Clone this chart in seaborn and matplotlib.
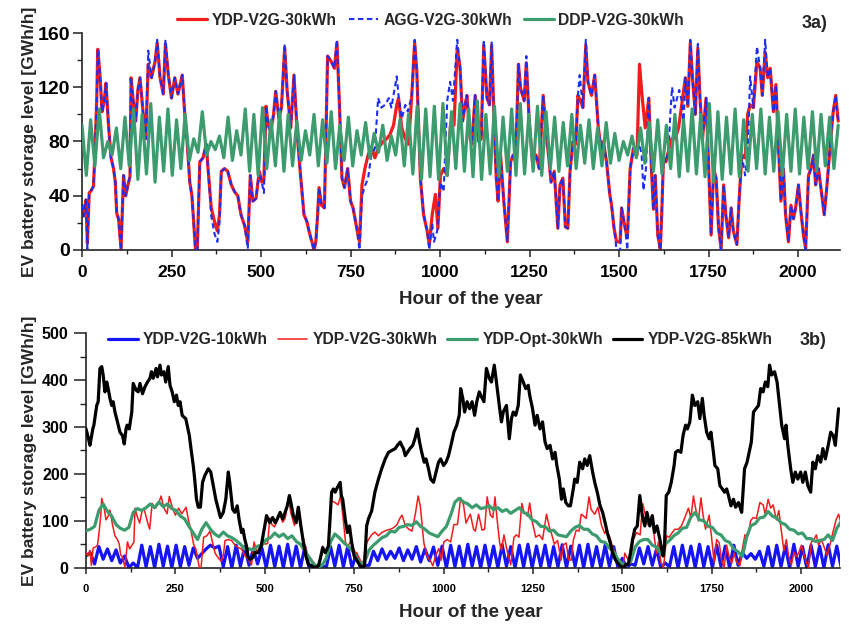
import numpy as np
import pandas as pd
import matplotlib
matplotlib.use("Agg")
import matplotlib.pyplot as plt
import seaborn as sns
from matplotlib.ticker import MultipleLocator

# ---------------------------------------------------------------- data
# YDP-V2G-30kWh storage level, hour / GWh/h
ydp30_hours = [0, 5, 11, 15, 20, 26, 32, 36, 41, 44, 50, 56, 62, 67, 74, 81, 88, 93, 97, 102, 109, 116, 122, 130, 134,
               137, 143, 150, 156, 162, 171, 178, 185, 194, 204, 210, 218, 227, 233, 241, 250, 259, 268, 280, 287, 294,
               301, 307, 317, 322, 329, 338, 347, 352, 361, 370, 378, 384, 389, 398, 407, 417, 426, 435, 444, 454, 463,
               470, 477, 486, 495, 502, 508, 514, 520, 527, 535, 541, 550, 557, 566, 573, 583, 592, 602, 611, 620, 628,
               634, 644, 648, 653, 658, 662, 669, 677, 686, 696, 705, 712, 719, 726, 733, 742, 750, 757, 766, 775, 782,
               790, 799, 808, 818, 827, 841, 851, 860, 870, 879, 884, 893, 903, 912, 921, 929, 935, 945, 954, 964, 970,
               978, 987, 994, 1001, 1010, 1020, 1029, 1039, 1048, 1056, 1063, 1070, 1075, 1084, 1089, 1098, 1108, 1115,
               1122, 1131, 1138, 1144, 1150, 1157, 1162, 1169, 1178, 1188, 1197, 1204, 1211, 1219, 1225, 1235, 1241,
               1249, 1258, 1268, 1277, 1288, 1296, 1303, 1310, 1319, 1329, 1335, 1343, 1350, 1357, 1363, 1371, 1379,
               1385, 1392, 1399, 1407, 1413, 1423, 1432, 1442, 1451, 1456, 1465, 1474, 1479, 1486, 1493, 1503, 1507,
               1517, 1523, 1531, 1540, 1550, 1557, 1564, 1573, 1583, 1590, 1596, 1601, 1608, 1615, 1619, 1624, 1631,
               1638, 1647, 1657, 1666, 1675, 1685, 1692, 1699, 1705, 1713, 1720, 1726, 1733, 1743, 1750, 1757, 1764,
               1771, 1778, 1785, 1792, 1798, 1806, 1813, 1819, 1829, 1835, 1843, 1852, 1859, 1866, 1875, 1885, 1894,
               1900, 1908, 1915, 1922, 1931, 1938, 1945, 1952, 1959, 1965, 1973, 1980, 1987, 1993, 2001, 2008, 2015,
               2021, 2029, 2036, 2043, 2049, 2057, 2066, 2073, 2080, 2089, 2098, 2105, 2112]
ydp30_values = [33, 25, 37, 5, 42, 44, 47, 71, 110, 148, 130, 102, 110, 123, 92, 68, 60, 50, 27, 23, 1, 55, 40, 50, 54,
                127, 110, 95, 118, 127, 100, 82, 137, 127, 139, 153, 127, 115, 152, 129, 112, 127, 115, 129, 100, 78,
                50, 40, 0, 1, 65, 68, 78, 60, 31, 21, 14, 26, 58, 60, 58, 48, 43, 40, 26, 18, 6,
                55, 36, 38, 58, 50, 52, 106, 92, 87, 100, 117, 97, 105, 149, 117, 90, 129, 82, 53, 26, 21,
                14, 4, 0, 6, 26, 46, 33, 31, 143, 139, 134, 153, 107, 53, 46, 60, 36, 31, 18, 6, 48,
                60, 70, 76, 68, 75, 80, 82, 85, 92, 107, 112, 90, 82, 78, 114, 153, 132, 53, 26, 14, 4,
                26, 41, 16, 55, 60, 55, 92, 92, 149, 134, 95, 107, 114, 82, 78, 114, 80, 82,
                151, 112, 107, 151, 102, 53, 36, 70, 36, 6, 65, 70, 65, 137, 119, 110, 138,
                95, 65, 70, 60, 114, 87, 70, 50, 58, 16, 48, 53, 17, 16, 58, 80, 78,
                114, 110, 105, 151, 124, 114, 129, 90, 73, 80, 65, 41, 33, 16, 6, 6, 31,
                16, 9, 60, 75, 70, 137, 114, 90, 112, 62, 30, 55, 11, 1, 26, 68, 65,
                73, 82, 82, 90, 107, 127, 106, 153, 127, 100, 149, 112, 82, 112, 63, 11, 60,
                53, 16, 1, 48, 26, 9, 31, 14, 4, 36, 70, 68, 100, 107, 105, 139, 134,
                114, 146, 127, 134, 102, 122, 78, 36, 60, 26, 6, 33, 23, 31, 48, 28, 11,
                1, 55, 60, 70, 48, 60, 41, 26, 46, 75, 102, 114, 95]

# AGG-V2G-30kWh storage level
agg30_hours = [0, 5, 11, 15, 20, 26, 32, 36, 41, 44, 50, 56, 62, 67, 74, 81, 88, 93, 97, 102, 109, 116, 122, 130, 134,
               137, 143, 150, 156, 162, 171, 178, 185, 194, 204, 210, 218, 227, 233, 241, 250, 259, 268, 280, 287, 294,
               301, 307, 317, 322, 329, 338, 347, 352, 361, 370, 378, 384, 389, 398, 407, 417, 426, 435, 444, 454, 463,
               470, 477, 486, 495, 502, 508, 514, 520, 527, 535, 541, 550, 557, 566, 573, 583, 592, 602, 611, 620, 628,
               634, 644, 648, 653, 658, 662, 669, 677, 686, 696, 705, 712, 719, 726, 733, 742, 750, 757, 766, 775, 782,
               790, 799, 808, 818, 827, 836, 846, 857, 864, 879, 884, 893, 903, 910, 921, 929, 935, 945, 954, 964, 970,
               978, 983, 992, 1001, 1010, 1020, 1028, 1036, 1048, 1056, 1063, 1070, 1075, 1084, 1089, 1098, 1108, 1115,
               1122, 1131, 1138, 1144, 1150, 1157, 1162, 1169, 1178, 1188, 1197, 1204, 1211, 1219, 1225, 1235, 1241,
               1249, 1258, 1268, 1277, 1288, 1296, 1303, 1310, 1319, 1329, 1335, 1343, 1350, 1357, 1363, 1371, 1379,
               1385, 1390, 1399, 1407, 1413, 1423, 1432, 1442, 1451, 1456, 1465, 1474, 1479, 1486, 1493, 1503, 1507,
               1517, 1523, 1531, 1540, 1550, 1557, 1563, 1568, 1575, 1583, 1590, 1596, 1601, 1608, 1615, 1619, 1624,
               1631, 1638, 1643, 1648, 1655, 1662, 1668, 1675, 1680, 1685, 1692, 1699, 1705, 1713, 1720, 1726, 1733,
               1743, 1750, 1757, 1764, 1771, 1778, 1785, 1792, 1798, 1806, 1813, 1819, 1829, 1835, 1843, 1852, 1859,
               1866, 1875, 1885, 1894, 1900, 1908, 1915, 1922, 1931, 1938, 1945, 1952, 1959, 1965, 1973, 1980, 1987,
               1993, 2001, 2008, 2015, 2021, 2029, 2036, 2043, 2049, 2057, 2066, 2073, 2080, 2089, 2098, 2105, 2112]
agg30_values = [33, 25, 37, 1, 42, 44, 47, 71, 110, 148, 130, 102, 110, 123, 92, 68, 60, 50, 27, 23, 0, 55, 40, 50, 54,
                127, 110, 95, 118, 127, 100, 82, 147, 127, 139, 155, 127, 115, 155, 129, 112, 127, 115, 129, 100, 78,
                50, 40, 0, 1, 65, 68, 78, 60, 25, 12, 6, 20, 58, 60, 58, 48, 43, 40, 26, 18, 1,
                55, 36, 38, 58, 50, 42, 106, 92, 87, 100, 117, 97, 105, 152, 117, 90, 129, 82, 53, 26, 21,
                14, 4, 0, 6, 26, 46, 33, 31, 143, 139, 134, 155, 107, 53, 46, 60, 36, 31, 18, 0, 40,
                47, 53, 70, 75, 112, 105, 107, 112, 105, 128, 114, 97, 107, 102, 114, 155, 132, 53, 26, 14, 0,
                20, 6, 14, 50, 43, 110, 124, 110, 155, 134, 95, 107, 114, 82, 78, 114, 80, 82,
                155, 112, 107, 153, 102, 53, 36, 70, 36, 6, 65, 70, 65, 137, 119, 110, 143,
                95, 65, 70, 60, 114, 87, 70, 50, 58, 16, 48, 53, 17, 16, 58, 80, 78,
                114, 129, 105, 155, 124, 114, 129, 90, 73, 80, 65, 41, 33, 16, 0, 0, 31,
                16, 0, 60, 75, 72, 78, 70, 44, 60, 112, 62, 30, 55, 11, 0, 26, 68,
                65, 73, 100, 120, 105, 112, 118, 110, 92, 127, 106, 155, 127, 100, 152, 112, 82,
                112, 63, 11, 60, 53, 16, 0, 48, 26, 9, 31, 14, 4, 36, 70, 55, 70,
                128, 105, 150, 134, 114, 155, 127, 134, 102, 122, 78, 36, 60, 26, 6, 33, 23,
                31, 48, 28, 11, 0, 55, 60, 70, 48, 60, 41, 26, 46, 75, 102, 114, 95]

# DDP-V2G-30kWh storage level, one value every 12 h (daily high / low)
ddp30_step = 12
ddp30_values = [92, 55, 96, 62, 104, 68, 80, 70, 90, 60, 98, 62, 104, 52, 100, 56, 108, 50, 98, 58,
                104, 55, 96, 60, 100, 66, 82, 72, 102, 70, 80, 74, 84, 68, 98, 66, 88, 70, 104, 58,
                100, 55, 105, 60, 96, 62, 102, 58, 100, 62, 95, 66, 88, 70, 100, 62, 96, 64, 102, 60,
                92, 66, 98, 62, 88, 70, 94, 68, 86, 72, 92, 66, 84, 70, 96, 62, 100, 56, 106, 52,
                104, 54, 106, 52, 108, 55, 102, 60, 108, 58, 104, 54, 110, 52, 100, 56, 106, 54, 98, 58,
                104, 55, 108, 56, 100, 58, 106, 55, 102, 60, 98, 58, 94, 62, 100, 60, 92, 64, 96, 60,
                90, 62, 94, 64, 86, 66, 80, 70, 84, 68, 90, 64, 94, 58, 96, 56, 92, 60, 100, 54,
                96, 58, 104, 56, 100, 54, 108, 50, 102, 52, 98, 56, 104, 54, 96, 58, 100, 60, 104, 56,
                98, 58, 102, 55, 100, 58, 104, 56, 98, 60, 102, 58, 100, 62, 98, 60, 92]

# YDP-V2G-10kWh storage level, one value every 12 h
ydp10_step = 12
ydp10_values = [25, 32, 8, 45, 18, 40, 15, 38, 10, 25, 0, 10, 0, 48, 2, 45, 0, 50, 3, 46,
                0, 48, 2, 45, 5, 42, 20, 30, 40, 48, 42, 46, 2, 45, 0, 48, 3, 45, 5, 40,
                8, 42, 0, 48, 2, 46, 0, 50, 3, 46, 0, 45, 0, 8, 0, 5, 0, 45, 3, 48,
                2, 45, 0, 30, 0, 5, 5, 35, 15, 40, 18, 35, 20, 42, 15, 38, 18, 45, 12, 40,
                15, 44, 5, 46, 0, 48, 2, 46, 0, 50, 3, 45, 0, 48, 2, 46, 0, 49, 3, 45,
                0, 48, 2, 50, 0, 46, 3, 48, 0, 45, 2, 49, 0, 46, 3, 48, 0, 50, 2, 45,
                0, 48, 3, 45, 0, 20, 0, 8, 5, 42, 8, 45, 5, 40, 0, 10, 2, 45, 0, 48,
                3, 46, 0, 50, 2, 45, 0, 48, 3, 46, 0, 48, 5, 32, 20, 30, 18, 35, 3, 45,
                0, 48, 2, 46, 0, 50, 3, 45, 0, 48, 2, 46, 0, 49, 3, 46, 2]

# YDP-Opt-30kWh storage level, one value every 12 h
opt30_step = 12
opt30_values = [79, 82, 88, 122, 136, 120, 110, 92, 84, 80, 86, 118, 126, 122, 128, 136, 128, 140, 130, 136,
                126, 122, 110, 104, 88, 74, 60, 82, 96, 82, 72, 66, 76, 68, 64, 58, 50, 40, 40, 38,
                46, 48, 60, 64, 74, 66, 72, 62, 68, 56, 50, 36, 22, 8, 2, 5, 20, 55, 72, 64,
                54, 46, 38, 22, 8, 14, 38, 48, 56, 64, 68, 78, 76, 86, 88, 92, 90, 98, 88, 82,
                74, 70, 66, 78, 88, 112, 140, 148, 140, 136, 128, 134, 126, 128, 132, 124, 128, 120, 124, 116,
                122, 128, 118, 114, 102, 98, 88, 88, 78, 80, 70, 68, 66, 78, 86, 90, 82, 82, 72, 68,
                56, 54, 42, 34, 18, 8, 6, 14, 44, 56, 60, 60, 48, 44, 30, 50, 58, 68, 74, 84,
                86, 108, 118, 102, 100, 88, 86, 74, 70, 58, 54, 40, 34, 24, 66, 90, 94, 106, 108, 120,
                110, 106, 96, 92, 82, 80, 72, 74, 62, 62, 56, 58, 60, 70, 58, 84, 98]

# YDP-V2G-85kWh storage level
ydp85_hours = [0, 7, 11, 19, 22, 30, 34, 39, 44, 48, 53, 58, 62, 67, 72, 76, 81, 88, 95, 102, 107, 112, 115, 121, 128,
               132, 140, 146, 151, 158, 165, 172, 179, 183, 188, 196, 200, 207, 211, 218, 223, 230, 235, 241, 247, 253,
               258, 263, 269, 274, 279, 283, 289, 295, 300, 304, 309, 314, 320, 326, 332, 342, 349, 356, 363, 370, 376,
               384, 391, 398, 402, 410, 416, 423, 428, 435, 439, 444, 449, 453, 458, 466, 472, 481, 490, 500, 505, 514,
               522, 529, 535, 543, 550, 557, 563, 569, 573, 580, 588, 594, 601, 608, 615, 622, 631, 641, 650, 655, 662,
               669, 678, 687, 692, 697, 701, 706, 711, 714, 718, 725, 731, 737, 743, 750, 759, 767, 774, 779, 785, 790,
               799, 808, 818, 827, 837, 846, 855, 865, 871, 879, 883, 888, 893, 899, 906, 914, 920, 927, 933, 939, 946,
               951, 958, 964, 972, 979, 986, 992, 1000, 1007, 1014, 1023, 1029, 1037, 1044, 1048, 1054, 1059, 1066,
               1073, 1080, 1087, 1093, 1100, 1104, 1113, 1120, 1128, 1134, 1142, 1148, 1156, 1162, 1167, 1176, 1184,
               1190, 1195, 1202, 1209, 1215, 1223, 1230, 1237, 1241, 1249, 1256, 1262, 1270, 1277, 1284, 1290, 1298,
               1305, 1312, 1317, 1324, 1330, 1335, 1342, 1349, 1355, 1363, 1367, 1374, 1381, 1389, 1395, 1402, 1409,
               1417, 1423, 1430, 1438, 1445, 1452, 1458, 1466, 1473, 1480, 1486, 1494, 1503, 1510, 1517, 1523, 1529,
               1535, 1542, 1549, 1556, 1563, 1569, 1577, 1584, 1590, 1597, 1605, 1610, 1614, 1618, 1623, 1630, 1637,
               1645, 1649, 1656, 1664, 1670, 1677, 1682, 1689, 1696, 1703, 1711, 1717, 1724, 1729, 1736, 1743, 1748,
               1755, 1759, 1767, 1773, 1780, 1786, 1792, 1797, 1804, 1811, 1817, 1825, 1834, 1842, 1849, 1853, 1861,
               1867, 1874, 1881, 1887, 1894, 1900, 1907, 1912, 1918, 1926, 1933, 1940, 1946, 1954, 1958, 1963, 1971,
               1977, 1984, 1991, 1999, 2005, 2012, 2019, 2027, 2033, 2040, 2047, 2055, 2061, 2068, 2076, 2083, 2090,
               2096, 2101, 2105]
ydp85_values = [296, 275, 261, 296, 304, 346, 354, 425, 429, 411, 375, 396, 382, 361, 346, 354, 332, 311, 289, 282, 264,
                296, 304, 296, 332,
                393, 379, 375, 393, 371, 386, 396, 404, 418, 404, 425, 407, 432, 411, 418, 396, 429, 389, 375, 354, 368,
                346, 354, 325, 321, 318, 304, 282, 246, 218, 189, 146, 129, 129, 182, 196, 211, 204, 175, 146, 125, 107,
                118, 146, 204, 182, 125, 118, 132, 104, 75, 82, 61, 46, 25, 18, 21, 32, 32, 46, 89, 111, 96,
                107, 96, 104, 118, 104, 118, 132, 154, 139, 111, 96, 129, 89, 54, 25, 7, 4, 0, 4, 18, 43,
                32, 46, 161, 168, 161, 168, 175, 182, 154, 146, 104, 75, 89, 54, 25, 14, 4, 0, 4, 89, 104,
                121, 161, 189, 211, 232, 246, 250, 254, 261, 268, 261, 254, 239, 246, 254, 261, 275, 296, 268, 246, 225,
                232, 211, 189, 182, 204, 225, 232, 218, 225, 239, 268, 289, 304, 325, 382, 361, 332, 354,
                339, 354, 325, 354, 375, 368, 354, 425, 404, 396, 432, 396, 346, 311, 332, 346, 275,
                318, 332, 325, 346, 411, 396, 382, 389, 368, 339, 304, 325, 296, 311, 268, 254, 261,
                232, 246, 218, 189, 146, 168, 139, 132, 132, 168, 189, 182, 225, 211, 232, 218, 239,
                204, 182, 161, 132, 118, 96, 75, 54, 32, 18, 11, 4, 0, 7, 7, 32, 61,
                82, 89, 154, 111, 89, 118, 89, 111, 75, 89, 61, 40, 25, 46, 154, 161, 182,
                218, 246, 250, 246, 282, 304, 296, 311, 368, 346, 354, 318, 361, 325, 289, 275, 289,
                246, 218, 211, 175, 168, 161, 168, 154, 132, 146, 129, 139, 118, 211, 225, 239, 268,
                332, 339, 346, 382, 375, 396, 386, 432, 411, 418, 396, 346, 304, 275, 304, 261, 211,
                182, 204, 189, 204, 182, 204, 175, 161, 225, 211, 239, 225, 254, 232, 261, 289, 282,
                261, 304, 339]

legend_a = ["YDP-V2G-30kWh", "AGG-V2G-30kWh", "DDP-V2G-30kWh"]
legend_b = ["YDP-V2G-10kWh", "YDP-V2G-30kWh", "YDP-Opt-30kWh", "YDP-V2G-85kWh"]
y_label = "EV battery storage level [GWh/h]"
x_label = "Hour of the year"


def frame(hours, values):
    return pd.DataFrame({"hour": np.asarray(hours, dtype=float),
                         "level": np.asarray(values, dtype=float)})


def grid_frame(step, values):
    return frame(np.arange(len(values)) * step, values)


ydp30 = frame(ydp30_hours, ydp30_values)
agg30 = frame(agg30_hours, agg30_values)
ddp30 = grid_frame(ddp30_step, ddp30_values)
ydp10 = grid_frame(ydp10_step, ydp10_values)
opt30 = grid_frame(opt30_step, opt30_values)
ydp85 = frame(ydp85_hours, ydp85_values)

# ---------------------------------------------------------------- style
sns.set_theme(style="ticks")
plt.rcParams["font.family"] = ["Liberation Sans", "DejaVu Sans"]
plt.rcParams["font.weight"] = "bold"
plt.rcParams["axes.labelweight"] = "bold"

RED = "#f21c1c"
BLUE_DASH = "#1e2ef0"
BLUE = "#1414f5"
GREEN = "#3c9c6e"
BLACK = "#000000"

fig = plt.figure(figsize=(8.49, 6.30), dpi=100)
ax_a = fig.add_axes([0.0966, 0.6032, 0.8928, 0.3444])
ax_b = fig.add_axes([0.1013, 0.0989, 0.8881, 0.3721])

common = dict(x="hour", y="level", estimator=None, sort=False)

# ---------------------------------------------------------------- panel a
sns.lineplot(data=ydp30, ax=ax_a, color=RED, lw=2.3, label=legend_a[0], zorder=2, **common)
sns.lineplot(data=agg30, ax=ax_a, color=BLUE_DASH, lw=1.5, linestyle=(0, (2.6, 1.7)),
             label=legend_a[1], zorder=3, **common)
sns.lineplot(data=ddp30, ax=ax_a, color=GREEN, lw=2.3, label=legend_a[2], zorder=4, **common)

ax_a.set_xlim(0, 2117)
ax_a.set_ylim(0, 160)
ax_a.xaxis.set_major_locator(MultipleLocator(250))
ax_a.xaxis.set_minor_locator(MultipleLocator(125))
ax_a.yaxis.set_major_locator(MultipleLocator(40))
ax_a.yaxis.set_minor_locator(MultipleLocator(20))
ax_a.tick_params(axis="x", which="major", length=5, width=1.1, labelsize=12.5, pad=6)
ax_a.tick_params(axis="x", which="minor", length=3, width=1.0)
ax_a.tick_params(axis="y", which="major", length=6.5, width=1.1, labelsize=14, pad=2)
ax_a.tick_params(axis="y", which="minor", length=3.5, width=1.0)
ax_a.set_xlabel(x_label, fontsize=13.5)
ax_a.set_ylabel(y_label, fontsize=12.5)
ax_a.xaxis.set_label_coords(0.513, -0.19)
ax_a.yaxis.set_label_coords(-0.059, 0.5)
ax_a.legend(loc="center", bbox_to_anchor=(0.460, 1.058), ncol=3, frameon=False,
            prop={"weight": "bold", "size": 11.3}, handlelength=1.9, handletextpad=0.3,
            columnspacing=0.75, borderaxespad=0, borderpad=0)
fig.text(0.960, 0.963, "3a)", ha="center", va="center", fontsize=13, fontweight="bold")

# ---------------------------------------------------------------- panel b
sns.lineplot(data=ydp10, ax=ax_b, color=BLUE, lw=2.3, label=legend_b[0], zorder=2, **common)
sns.lineplot(data=ydp30, ax=ax_b, color=RED, lw=1.1, label=legend_b[1], zorder=3, **common)
sns.lineplot(data=opt30, ax=ax_b, color=GREEN, lw=2.3, label=legend_b[2], zorder=4, **common)
sns.lineplot(data=ydp85, ax=ax_b, color=BLACK, lw=2.3, label=legend_b[3], zorder=5, **common)

ax_b.set_xlim(0, 2109)
ax_b.set_ylim(0, 500)
ax_b.xaxis.set_major_locator(MultipleLocator(250))
ax_b.xaxis.set_minor_locator(MultipleLocator(125))
ax_b.yaxis.set_major_locator(MultipleLocator(100))
ax_b.yaxis.set_minor_locator(MultipleLocator(50))
ax_b.tick_params(axis="x", which="major", length=4.5, width=1.1, labelsize=8, pad=7.5)
ax_b.tick_params(axis="x", which="minor", length=3, width=1.0)
ax_b.tick_params(axis="y", which="major", length=8.5, width=1.1, labelsize=11.5, pad=4)
ax_b.tick_params(axis="y", which="minor", length=4.5, width=1.0)
ax_b.set_xlabel(x_label, fontsize=13.5)
ax_b.set_ylabel(y_label, fontsize=12.5)
ax_b.xaxis.set_label_coords(0.511, -0.155)
ax_b.yaxis.set_label_coords(-0.065, 0.5)
ax_b.legend(loc="center", bbox_to_anchor=(0.470, 0.9715), ncol=4, frameon=False,
            prop={"weight": "bold", "size": 11.3}, handlelength=1.9, handletextpad=0.35,
            columnspacing=0.6, borderaxespad=0, borderpad=0)
fig.text(0.958, 0.460, "3b)", ha="center", va="center", fontsize=13, fontweight="bold")

for ax in (ax_a, ax_b):
    sns.despine(ax=ax)
    for side in ("left", "bottom"):
        ax.spines[side].set_linewidth(1.2)
        ax.spines[side].set_color("#222222")
    ax.tick_params(which="both", color="#222222", labelcolor="black")

fig.savefig("out.png", dpi=100)
